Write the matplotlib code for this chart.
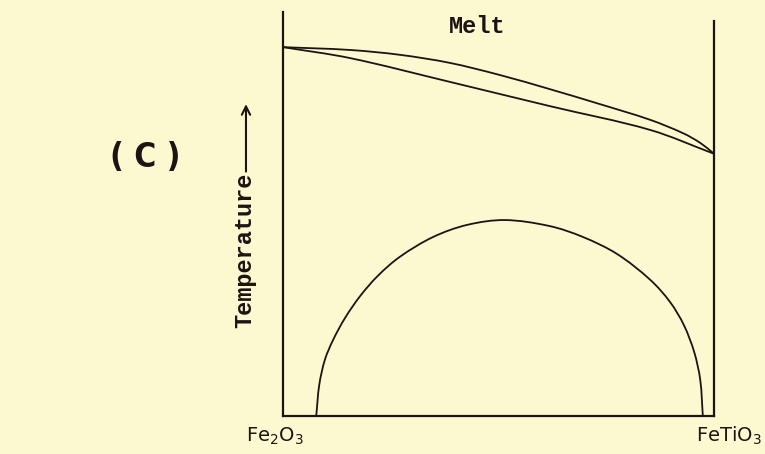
import matplotlib
matplotlib.use("Agg")
import matplotlib.pyplot as plt
from matplotlib.path import Path
from matplotlib.patches import PathPatch

# composition: 0 = Fe2O3, 1 = FeTiO3 ; temperature in relative units
liq_x = [0, 0.155, 0.271, 0.387, 0.503, 0.619, 0.735, 0.852, 0.928, 0.968, 1.0]
liq_t = [0.913, 0.906, 0.894, 0.874, 0.844, 0.809, 0.772, 0.733, 0.700, 0.676, 0.649]

sol_x = [0, 0.155, 0.387, 0.619, 0.852, 1.0]
sol_t = [0.913, 0.886, 0.827, 0.767, 0.708, 0.649]

solvus_x = [0.077, 0.084, 0.097, 0.116, 0.144, 0.179, 0.220, 0.271, 0.348, 0.427,
            0.515, 0.619, 0.696, 0.775, 0.852, 0.898, 0.930, 0.954, 0.968, 0.974]
solvus_t = [0.0, 0.077, 0.139, 0.188, 0.243, 0.297, 0.347, 0.394, 0.443, 0.473,
            0.485, 0.470, 0.443, 0.401, 0.337, 0.282, 0.225, 0.158, 0.089, 0.0]

bg = "#fcf9d0"
ink = "#1e1212"


def smooth_curve(ax, xs, ys, **kw):
    # bezier curve through the read points (chord-length catmull-rom)
    pts = list(zip(xs, ys))
    n = len(pts)
    d = [((pts[i + 1][0] - pts[i][0]) ** 2 + (pts[i + 1][1] - pts[i][1]) ** 2) ** 0.5
         for i in range(n - 1)]
    tang = []
    for i in range(n):
        a = pts[max(i - 1, 0)]
        b = pts[min(i + 1, n - 1)]
        L = (d[i - 1] if i > 0 else 0) + (d[i] if i < n - 1 else 0)
        tang.append(((b[0] - a[0]) / L, (b[1] - a[1]) / L))
    verts = [pts[0]]
    codes = [Path.MOVETO]
    for i in range(n - 1):
        p1, p2 = pts[i], pts[i + 1]
        h = d[i] / 3
        c1 = (p1[0] + tang[i][0] * h, p1[1] + tang[i][1] * h)
        c2 = (p2[0] - tang[i + 1][0] * h, p2[1] - tang[i + 1][1] * h)
        verts += [c1, c2, p2]
        codes += [Path.CURVE4] * 3
    ax.add_patch(PathPatch(Path(verts, codes), fill=False, clip_on=False, **kw))


fig = plt.figure(figsize=(7.65, 4.54), dpi=100)
fig.patch.set_facecolor(bg)
ax = fig.add_axes([0.370, 0.0837, 0.5634, 0.8899])
ax.set_facecolor(bg)
ax.set_xlim(0, 1)
ax.set_ylim(0, 1)
ax.axis("off")

# frame of the diagram
ax.plot([0, 0], [0, 1.0], color=ink, lw=1.6, clip_on=False)
ax.plot([1, 1], [0, 0.978], color=ink, lw=1.6, clip_on=False)
ax.plot([0, 1], [0, 0], color=ink, lw=1.6, clip_on=False)

smooth_curve(ax, liq_x, liq_t, edgecolor=ink, lw=1.3)
smooth_curve(ax, sol_x, sol_t, edgecolor=ink, lw=1.3)
smooth_curve(ax, solvus_x, solvus_t, edgecolor=ink, lw=1.3)

mono = "Liberation Mono"
ax.text(0.450, 0.965, "Melt", family=mono, fontsize=17, fontweight="bold",
        color=ink, ha="center", va="center")
ax.text(-0.088, 0.411, "Temperature", family=mono, fontsize=17, fontweight="bold",
        color=ink, ha="center", va="center", rotation=90)
ax.annotate("", xy=(-0.086, 0.772), xytext=(-0.086, 0.605),
            arrowprops=dict(arrowstyle="->,head_length=0.6,head_width=0.3",
                            color=ink, lw=1.5, shrinkA=0, shrinkB=0),
            annotation_clip=False)

ax.text(-0.019, -0.05, "Fe$_2$O$_3$", fontsize=14, color=ink,
        ha="center", va="center")
ax.text(1.035, -0.05, "FeTiO$_3$", fontsize=14, color=ink,
        ha="center", va="center")

ax.text(-0.320, 0.641, "( C )", fontsize=24, fontweight="bold", color=ink,
        ha="center", va="center", fontstretch="condensed")

fig.savefig("out.png", dpi=100, facecolor=bg)
